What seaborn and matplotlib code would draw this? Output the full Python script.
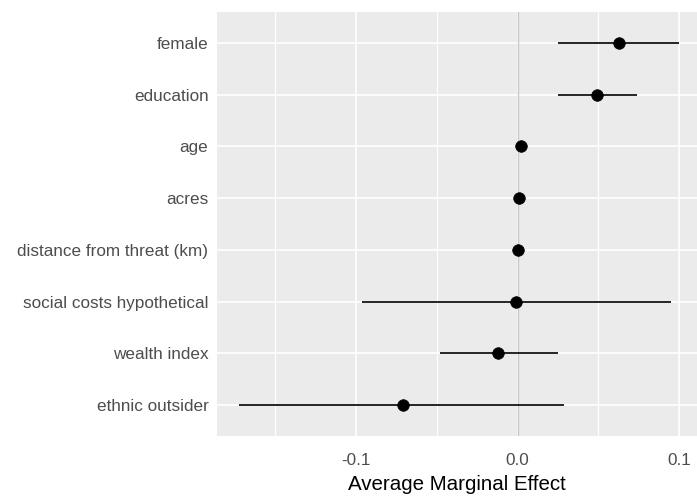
import matplotlib
matplotlib.use("Agg")
import matplotlib.pyplot as plt
import seaborn as sns
import pandas as pd
import numpy as np

variables = ["female", "education", "age", "acres", "distance from threat (km)",
             "social costs hypothetical", "wealth index", "ethnic outsider"]
ame = [0.063, 0.049, 0.002, 0.001, 0.000, -0.001, -0.012, -0.071]
ci_low = [0.025, 0.025, 0.002, 0.001, 0.000, -0.096, -0.048, -0.172]
ci_high = [0.100, 0.074, 0.002, 0.001, 0.000, 0.095, 0.025, 0.029]

sns.set_theme(style="darkgrid")
plt.rcParams['font.family'] = ['Liberation Sans', 'DejaVu Sans']

n = len(variables)
df = pd.DataFrame({"variable": variables, "ame": ame, "lo": ci_low, "hi": ci_high,
                   "pos": [n - i for i in range(n)]})

fig = plt.figure(figsize=(6.97, 5.0), dpi=100)
ax = fig.add_axes([0.311, 0.128, 0.689, 0.848])
ax.set_facecolor("#EBEBEB")

ax.axvline(0, color="#C8C8C8", lw=1.0, zorder=1)
ax.hlines(df["pos"], df["lo"], df["hi"], color="black", lw=1.2, zorder=3)
sns.scatterplot(data=df, x="ame", y="pos", ax=ax, color="black", s=70,
                edgecolor="black", linewidth=0.5, zorder=4, legend=False)

ax.set_xlim(-0.186, 0.111)
ax.set_ylim(0.4, n + 0.6)
ax.set_xticks([-0.1, 0.0, 0.1])
ax.set_xticklabels(["-0.1", "0.0", "0.1"])
ax.set_xticks([-0.15, -0.05, 0.05], minor=True)
ax.set_yticks(df["pos"])
ax.set_yticklabels(df["variable"])
ax.grid(which="major", color="white", lw=1.2)
ax.grid(which="minor", axis="x", color="white", lw=0.9)
ax.set_axisbelow(True)
for s in ax.spines.values():
    s.set_visible(False)
ax.tick_params(axis="both", which="major", length=3, width=0.8, color="#333333",
               labelcolor="#4D4D4D", labelsize=12.3, pad=3)
ax.tick_params(axis="x", which="major", pad=9.5)
ax.tick_params(axis="both", which="minor", length=0)
ax.set_xlabel("Average Marginal Effect", fontsize=14.8, color="black", labelpad=5)
ax.set_ylabel("")

fig.savefig("out.png", dpi=100)
